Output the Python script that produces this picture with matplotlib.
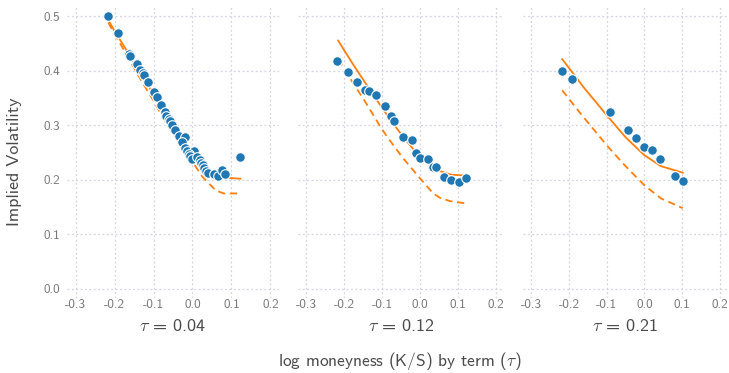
import matplotlib
matplotlib.use("Agg")
import matplotlib.pyplot as plt
import numpy as np

plt.rcParams['font.family'] = ['cmss10', 'DejaVu Sans']
plt.rcParams['mathtext.fontset'] = 'cm'
plt.rcParams['axes.unicode_minus'] = False

# market quotes (log moneyness, implied vol) per term
k1 = [-0.216, -0.190, -0.164, -0.160, -0.143, -0.134, -0.127, -0.124, -0.114, -0.099,
      -0.090, -0.081, -0.071, -0.067, -0.061, -0.058, -0.053, -0.044, -0.035, -0.020,
      -0.026, -0.018, -0.013, 0.005, -0.009, -0.006, -0.002, 0.011, 0.018, 0.022,
      0.026, 0.030, 0.035, 0.040, 0.055, 0.065, 0.076, 0.083, 0.123]
iv1 = [0.500, 0.469, 0.431, 0.427, 0.412, 0.402, 0.396, 0.392, 0.379, 0.361,
       0.351, 0.337, 0.324, 0.317, 0.311, 0.308, 0.301, 0.292, 0.280, 0.278,
       0.270, 0.259, 0.253, 0.253, 0.248, 0.244, 0.239, 0.242, 0.236, 0.231,
       0.227, 0.222, 0.216, 0.213, 0.211, 0.207, 0.218, 0.211, 0.241]

k2 = [-0.218, -0.191, -0.165, -0.145, -0.135, -0.115, -0.091, -0.077, -0.068, -0.045,
      -0.022, -0.010, 0.000, 0.020, 0.034, 0.042, 0.063, 0.083, 0.102, 0.122]
iv2 = [0.418, 0.398, 0.379, 0.364, 0.363, 0.355, 0.335, 0.316, 0.307, 0.279,
       0.273, 0.249, 0.240, 0.239, 0.223, 0.223, 0.205, 0.200, 0.196, 0.204]

k3 = [-0.218, -0.192, -0.092, -0.044, -0.023, -0.001, 0.021, 0.042, 0.082, 0.103]
iv3 = [0.399, 0.385, 0.324, 0.291, 0.276, 0.260, 0.254, 0.238, 0.207, 0.198]

# model fits: solid = fitted, dashed = second model
f1_k = [-0.216, -0.203, -0.169, -0.135, -0.101, -0.067, -0.033, 0.000, 0.025, 0.059, 0.080, 0.123]
f1_solid = [0.493, 0.476, 0.437, 0.397, 0.358, 0.318, 0.280, 0.246, 0.226, 0.208, 0.204, 0.202]
f1_dash = [0.488, 0.471, 0.429, 0.386, 0.346, 0.303, 0.267, 0.233, 0.206, 0.181, 0.175, 0.175]

f2_k = [-0.216, -0.178, -0.141, -0.106, -0.088, -0.045, -0.004, 0.035, 0.053, 0.079, 0.088, 0.119]
f2_solid = [0.455, 0.413, 0.374, 0.338, 0.320, 0.279, 0.245, 0.222, 0.216, 0.210, 0.209, 0.208]
f2_dash = [0.421, 0.379, 0.339, 0.299, 0.280, 0.240, 0.206, 0.175, 0.167, 0.161, 0.160, 0.157]

f3_k = [-0.218, -0.177, -0.163, -0.097, -0.050, 0.000, 0.044, 0.102]
f3_solid = [0.421, 0.384, 0.371, 0.316, 0.278, 0.245, 0.225, 0.213]
f3_dash = [0.364, 0.328, 0.316, 0.261, 0.225, 0.190, 0.166, 0.148]

terms = ['0.04', '0.12', '0.21']
quotes = [(k1, iv1), (k2, iv2), (k3, iv3)]
fits = [(f1_k, f1_solid, f1_dash), (f2_k, f2_solid, f2_dash), (f3_k, f3_solid, f3_dash)]

W, H = 729, 373
fig = plt.figure(figsize=(W / 100, H / 100), dpi=100)

panels = [(67, 279), (298, 504), (523, 728)]
top, bottom = 7, 298
blue = '#1f77b4'
orange = '#ff7f0e'
grid_c = '#d3d3e3'
tick_c = '#777777'
text_c = '#4a4a4a'

for i, (x0, x1) in enumerate(panels):
    ax = fig.add_axes([x0 / W, 1 - bottom / H, (x1 - x0) / W, (bottom - top) / H])
    fk, fs, fd = fits[i]
    ax.plot(fk, fs, color=orange, lw=1.3, zorder=2)
    ax.plot(fk, fd, color=orange, lw=1.3, dashes=(4, 2.6), zorder=2)
    k, iv = quotes[i]
    ax.scatter(k, iv, s=48, color=blue, edgecolors='white', linewidths=0.8, zorder=3)

    ax.set_xlim(-0.322, 0.222)
    ax.set_ylim(-0.0165, 0.5165)
    ax.set_xticks(np.arange(-0.3, 0.21, 0.1))
    ax.set_xticklabels(['-0.3', '-0.2', '-0.1', '0.0', '0.1', '0.2'])
    ax.set_yticks(np.arange(0, 0.51, 0.1))
    if i == 0:
        ax.set_yticklabels(['0.0', '0.1', '0.2', '0.3', '0.4', '0.5'])
    else:
        ax.set_yticklabels([])
    ax.tick_params(length=0, labelsize=9.5, labelcolor=tick_c, pad=1)
    ax.tick_params(axis='y', pad=5)
    ax.grid(True, color=grid_c, lw=0.9, ls=(0, (1.5, 2)))
    ax.set_axisbelow(True)
    for s in ax.spines.values():
        s.set_visible(False)

    fig.text((x0 + x1) / 2 / W, 1 - 326 / H, r'$\tau$ = ' + terms[i],
             ha='center', va='center', fontsize=13, color=text_c)

fig.text(400 / W, 1 - 366 / H, r'log moneyness (K/S) by term ($\tau$)',
         ha='center', va='baseline', fontsize=12.5, color=text_c)
fig.text(14 / W, 1 - 162 / H, 'Implied Volatility', rotation=90,
         ha='center', va='center', fontsize=13, color=text_c)

fig.savefig('out.png', dpi=100)
